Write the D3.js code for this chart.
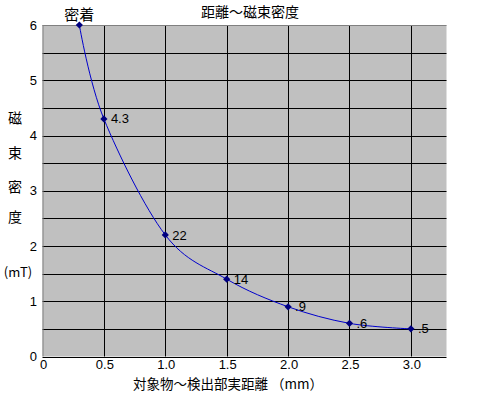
<!DOCTYPE html>
<html><head><meta charset="utf-8">
<script src="https://cdn.jsdelivr.net/npm/d3@7"></script>
<style>
html,body{margin:0;padding:0;background:#fff;}
svg{display:block;}
text{font-family:"Liberation Sans",Arial,sans-serif;}
.jp{font-family:"Noto Sans CJK JP","Noto Sans CJK SC",sans-serif;}
</style></head>
<body>
<svg id="c" width="489" height="393"></svg>
<script>
// ---- data ----
const distances = [0.3, 0.5, 1.0, 1.5, 2.0, 2.5, 3.0];
const fluxDensity = [6.0, 4.3, 2.2, 1.4, 0.9, 0.6, 0.5];
const pointLabels = ["", "4.3", "22", "14", ".9", ".6", ".5"];
const topLabel = "密着";
const xTicks = [0, 0.5, 1.0, 1.5, 2.0, 2.5, 3.0];
const xTickLabels = ["0", "0.5", "1.0", "1.5", "2.0", "2.5", "3.0"];
const yTicks = [0, 1, 2, 3, 4, 5, 6];
const yGrid = [0.5, 1, 1.5, 2, 2.5, 3, 3.5, 4, 4.5, 5, 5.5];
const xGrid = [0.5, 1.0, 1.5, 2.0, 2.5, 3.0];
const title = "距離～磁束密度";
const xTitle = "対象物～検出部実距離 （mm）";
const yTitleChars = ["磁", "束", "密", "度"];
const yUnit = "(mT)";

// ---- layout ----
const L = 42.5, R = 446.5, T = 25, B = 356.5;
const x = d3.scaleLinear().domain([0, 3.29]).range([L, R]);
const y = d3.scaleLinear().domain([0, 6]).range([B, T]);
const svg = d3.select("#c");

svg.append("rect").attr("x", L).attr("y", T).attr("width", R - L).attr("height", B - T).attr("fill", "#c0c0c0");

// gridlines
svg.append("g").selectAll("line").data(yGrid).join("line")
  .attr("x1", L).attr("x2", R)
  .attr("y1", d => Math.round(y(d)) + 0.5).attr("y2", d => Math.round(y(d)) + 0.5)
  .attr("stroke", "#000").attr("stroke-width", 1);
svg.append("g").selectAll("line").data(xGrid).join("line")
  .attr("y1", T).attr("y2", B)
  .attr("x1", d => Math.round(x(d)) + 0.5).attr("x2", d => Math.round(x(d)) + 0.5)
  .attr("stroke", "#000").attr("stroke-width", 1);

// borders
svg.append("line").attr("x1", L).attr("x2", R).attr("y1", T + 0.5).attr("y2", T + 0.5).attr("stroke", "#808080");
svg.append("line").attr("x1", L + 0.5).attr("x2", L + 0.5).attr("y1", T).attr("y2", B).attr("stroke", "#808080");
svg.append("line").attr("x1", L).attr("x2", R).attr("y1", Math.round(y(0)) + 0.5).attr("y2", Math.round(y(0)) + 0.5).attr("stroke", "#000");

// axes tick labels
svg.append("g").selectAll("text").data(yTicks).join("text")
  .attr("x", 37).attr("y", d => y(d)).attr("dy", "0.35em")
  .attr("text-anchor", "end").attr("font-size", 13).text(d => d);
svg.append("g").selectAll("text").data(xTicks).join("text")
  .attr("x", d => x(d) + 1).attr("y", 369)
  .attr("text-anchor", "middle").attr("font-size", 13).text((d, i) => xTickLabels[i]);

// titles
svg.append("text").attr("class", "jp").attr("x", 250).attr("y", 17).attr("text-anchor", "middle").attr("font-size", 14).text(title);
svg.append("text").attr("class", "jp").attr("x", 228).attr("y", 389).attr("text-anchor", "middle").attr("font-size", 13.5).text(xTitle);
const yPos = [118, 153, 187, 217];
svg.append("g").selectAll("text").data(yTitleChars).join("text")
  .attr("class", "jp").attr("x", 15).attr("y", (d, i) => yPos[i]).attr("dy", "0.35em")
  .attr("text-anchor", "middle").attr("font-size", 14).text(d => d);
svg.append("text").attr("class", "jp").attr("x", 18).attr("y", 272).attr("dy", "0.35em")
  .attr("text-anchor", "middle").attr("font-size", 13).text(yUnit);

// line
const pts = distances.map((d, i) => [d, fluxDensity[i]]);
const line = d3.line().x(d => x(d[0])).y(d => y(d[1])).curve(d3.curveCatmullRom.alpha(0));
svg.append("path").attr("d", line(pts)).attr("fill", "none").attr("stroke", "#0000cc").attr("stroke-width", 1);

// markers
const sym = d3.symbol().type(d3.symbolSquare).size(26);
svg.append("g").selectAll("path").data(pts).join("path")
  .attr("d", sym)
  .attr("transform", d => `translate(${x(d[0])},${y(d[1])}) rotate(45)`)
  .attr("fill", "#000080");

// point labels
svg.append("g").selectAll("text").data(pts).join("text")
  .attr("x", d => x(d[0]) + 7).attr("y", d => y(d[1])).attr("dy", "0.35em")
  .attr("font-size", 13).text((d, i) => pointLabels[i]);
svg.append("text").attr("class", "jp").attr("x", x(distances[0])).attr("y", 20)
  .attr("text-anchor", "middle").attr("font-size", 15).text(topLabel);
</script>
</body></html>
